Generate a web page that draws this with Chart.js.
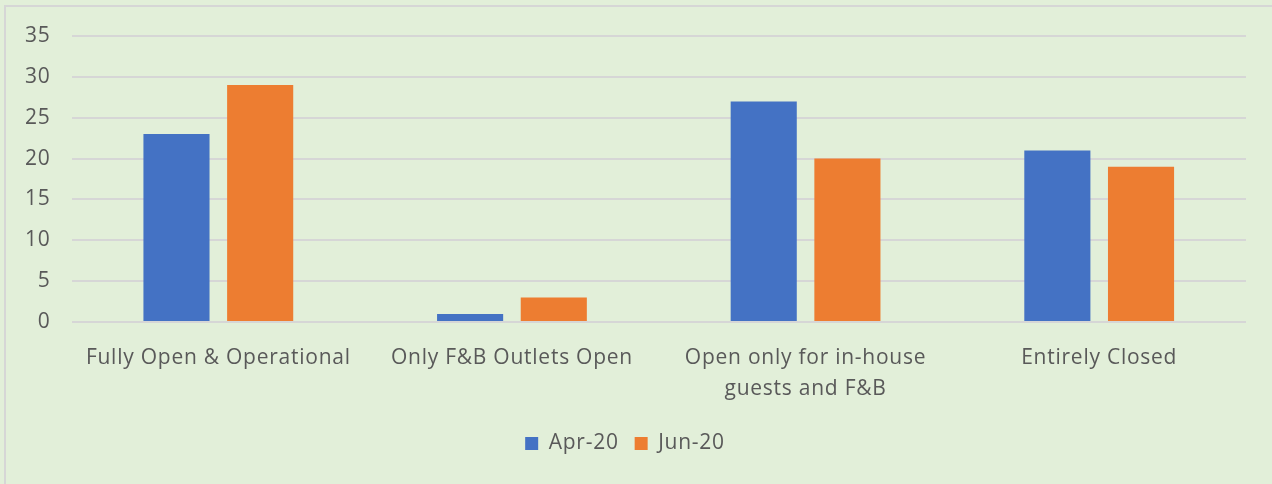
<!DOCTYPE html>
<html>
<head>
<meta charset="utf-8">
<script src="https://cdn.jsdelivr.net/npm/chart.js@4.4.1/dist/chart.umd.min.js"></script>
<style>
  html, body { margin: 0; padding: 0; background: #e2efd9; overflow: hidden; }
  #frame {
    position: absolute; left: 4px; top: 5px; width: 1280px; height: 490px;
    border-top: 2px solid #d6d6d6; border-left: 2px solid #d6d6d6;
  }
  #chart { position: absolute; left: 0; top: 0; }
</style>
</head>
<body>
<div id="frame"></div>
<canvas id="chart" width="1272" height="484"></canvas>
<script>
// chart data
var categories = [
    'Fully Open & Operational',
    'Only F&B Outlets Open',
    ['Open only for in-house', 'guests and F&B'],
    'Entirely Closed'
];
var apr20 = [23, 1, 27, 21];
var jun20 = [29, 3, 20, 19];

// text in the original is loosely spaced; canvas state resets on resize so set it on every pass
var spacingPlugin = {
    id: 'spacing',
    beforeUpdate: function(chart) { chart.ctx.letterSpacing = '0.75px'; },
    beforeDraw: function(chart) { chart.ctx.letterSpacing = '0.75px'; }
};

document.addEventListener('DOMContentLoaded', function() {
    var ctx = document.getElementById('chart').getContext('2d');
    Chart.defaults.font.family = '"Open Sans", Lato, sans-serif';
    Chart.defaults.color = '#595959';

    new Chart(ctx, {
        type: 'bar',
        data: {
            labels: categories,
            datasets: [
                { label: 'Apr-20', data: apr20, backgroundColor: '#4472c4' },
                { label: 'Jun-20', data: jun20, backgroundColor: '#ed7d31' }
            ]
        },
        plugins: [spacingPlugin],
        options: {
            responsive: false,
            animation: false,
            categoryPercentage: 0.57,
            barPercentage: 0.79,
            layout: { padding: { left: 4, right: 26, top: 36, bottom: 20 } },
            scales: {
                x: {
                    grid: { display: false },
                    border: { display: false },
                    ticks: { font: { size: 21, lineHeight: 1.45 }, padding: 13, maxRotation: 0 }
                },
                y: {
                    min: 0, max: 35,
                    ticks: { stepSize: 5, font: { size: 21 }, padding: 21 },
                    grid: { color: '#d6d6d6', lineWidth: 2, drawTicks: false },
                    border: { display: false }
                }
            },
            plugins: {
                legend: {
                    position: 'bottom',
                    labels: { boxWidth: 13, boxHeight: 13, font: { size: 21 }, padding: 16 }
                },
                tooltip: { enabled: false }
            }
        }
    });
});
</script>
</body>
</html>
